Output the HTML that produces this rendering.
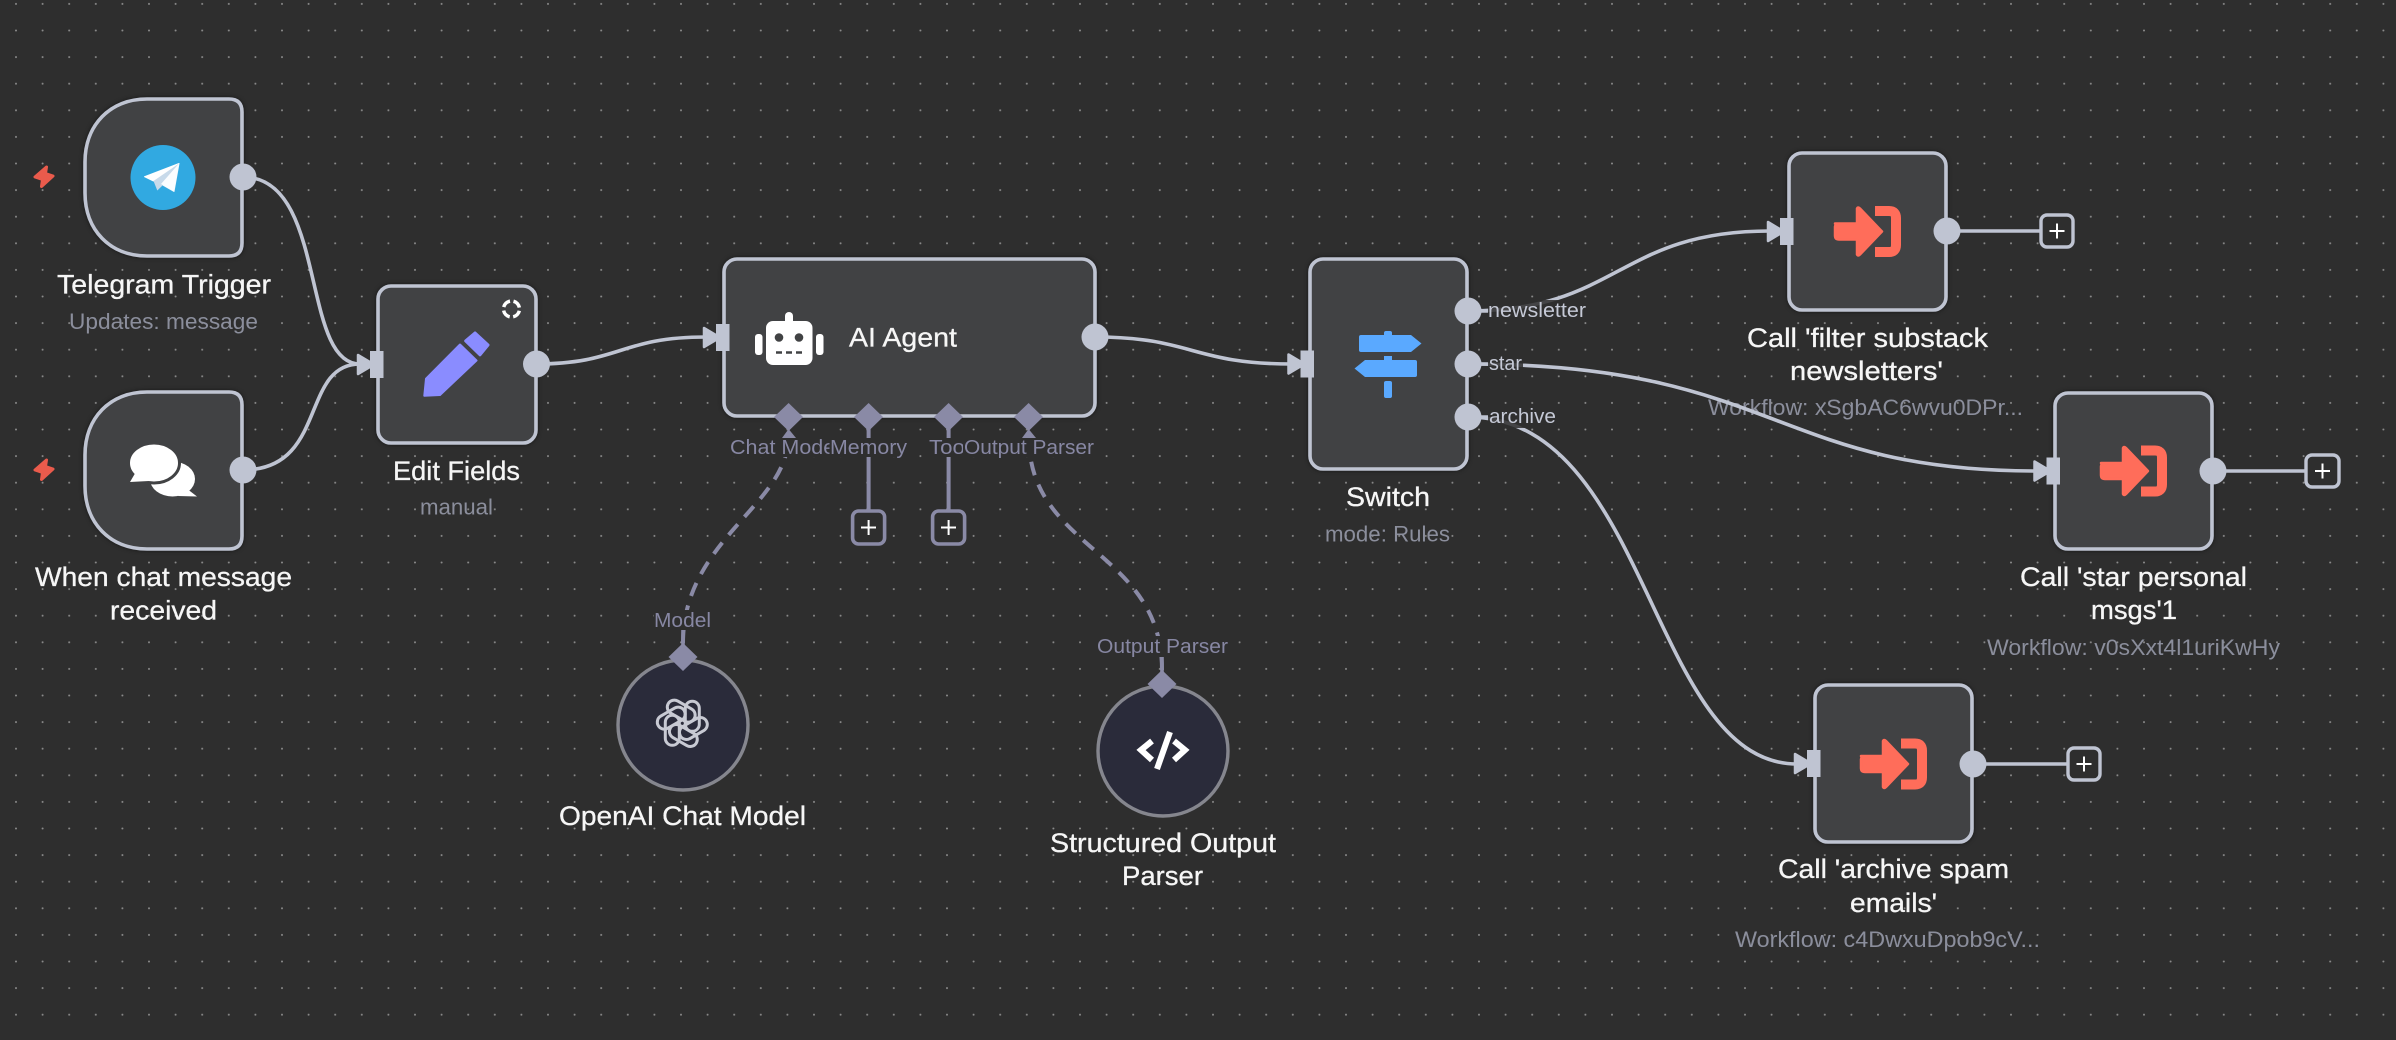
<!DOCTYPE html>
<html><head><meta charset="utf-8"><title>Workflow</title>
<style>
html,body{margin:0;padding:0;background:#2e2e2e;width:2396px;height:1040px;overflow:hidden}
svg{display:block}
text{font-family:"Liberation Sans",sans-serif}
.l{font-size:27px;fill:#f6f6f6;stroke:#f6f6f6;stroke-width:.3}
.s{font-size:22px;fill:#8b8e9c}
.h{font-size:20.5px;fill:#8787a3}
.p{font-size:20.5px;fill:#c5c9d6}
.n{fill:#414244;stroke:#bfc4d2;stroke-width:3.6;filter:drop-shadow(0 0 2px rgba(0,0,0,.5))}
.e{fill:none;stroke:#bfc4d2;stroke-width:3.6}
.d{fill:none;stroke:#8a8aa6;stroke-width:4;stroke-dasharray:14 10}
.c{fill:#bfc4d2}
.m{fill:#8a8aa6}
</style></head><body>
<svg width="2396" height="1040" viewBox="0 0 2396 1040" xmlns="http://www.w3.org/2000/svg">
<defs>
<pattern id="g" x="2.7" y="-9.4" width="26.6" height="26.6" patternUnits="userSpaceOnUse"><circle cx="13.3" cy="13.3" r="1" fill="#8c8c8c"/></pattern>
<g id="sub">
<path d="M47,-8H69V-23Q70,-25 72,-23L94,0L72,23Q70,25 69,23V8H51Q47,8 47,4V-4Q47,-8 51,-8Z" fill="#ff6d5a" stroke="#ff6d5a" stroke-width="2.5" stroke-linejoin="round"/>
<path d="M87,-20.5H101Q108,-20.5 108,-13.5V13.5Q108,20.5 101,20.5H87" fill="none" stroke="#ff6d5a" stroke-width="10"/>
</g>
<g id="inp"><polygon points="-19,-9.5 -3,0 -19,9.5" class="c" stroke="#bfc4d2" stroke-width="2.5" stroke-linejoin="round"/><rect x="-7" y="-13.5" width="13.5" height="27" class="c"/></g>
<g id="bolt"><polygon points="46.5,167 35,177 42.5,179.5 41.5,186.5 53,176 45.5,173.5" fill="#ea5b4c" stroke="#ea5b4c" stroke-width="3" stroke-linejoin="round"/></g>
</defs>
<rect width="2396" height="1040" fill="#2e2e2e"/>
<rect width="2396" height="1040" fill="url(#g)"/>

<!-- node labels -->
<text class="l" x="57" y="293.5" textLength="214" lengthAdjust="spacingAndGlyphs">Telegram Trigger</text>
<text class="s" x="69" y="329" textLength="189" lengthAdjust="spacingAndGlyphs">Updates: message</text>
<text class="l" x="35" y="586" textLength="257" lengthAdjust="spacingAndGlyphs">When chat message</text>
<text class="l" x="110" y="619.5" textLength="107" lengthAdjust="spacingAndGlyphs">received</text>
<text class="l" x="393" y="480" textLength="127" lengthAdjust="spacingAndGlyphs">Edit Fields</text>
<text class="s" x="420" y="514.5" textLength="73" lengthAdjust="spacingAndGlyphs">manual</text>
<text class="l" x="1346" y="506" textLength="84" lengthAdjust="spacingAndGlyphs">Switch</text>
<text class="s" x="1325" y="541.5" textLength="125" lengthAdjust="spacingAndGlyphs">mode: Rules</text>
<text class="l" x="559" y="825" textLength="247" lengthAdjust="spacingAndGlyphs">OpenAI Chat Model</text>
<text class="l" x="1050" y="852" textLength="226" lengthAdjust="spacingAndGlyphs">Structured Output</text>
<text class="l" x="1122" y="885" textLength="81" lengthAdjust="spacingAndGlyphs">Parser</text>
<text class="l" x="1747" y="347" textLength="241" lengthAdjust="spacingAndGlyphs">Call 'filter substack</text>
<text class="l" x="1790" y="380" textLength="153" lengthAdjust="spacingAndGlyphs">newsletters'</text>
<text class="s" x="1708" y="415" textLength="315" lengthAdjust="spacingAndGlyphs">Workflow: xSgbAC6wvu0DPr...</text>
<text class="l" x="2020" y="586" textLength="227" lengthAdjust="spacingAndGlyphs">Call 'star personal</text>
<text class="l" x="2091" y="619" textLength="86" lengthAdjust="spacingAndGlyphs">msgs'1</text>
<text class="s" x="1987" y="655" textLength="293" lengthAdjust="spacingAndGlyphs">Workflow: v0sXxt4l1uriKwHy</text>
<text class="l" x="1778" y="878" textLength="231" lengthAdjust="spacingAndGlyphs">Call 'archive spam</text>
<text class="l" x="1850" y="912" textLength="87" lengthAdjust="spacingAndGlyphs">emails'</text>
<text class="s" x="1735" y="947" textLength="305" lengthAdjust="spacingAndGlyphs">Workflow: c4DwxuDpob9cV...</text>

<!-- connectors -->
<path class="e" d="M243,177C328,177 300,364 360,364"/>
<path class="e" d="M243,470C328,470 300,364 360,364"/>
<path class="e" d="M536,364C620,364 620,337 706,337"/>
<path class="e" d="M1095,337C1192,337 1192,364 1292,364"/>
<path class="e" d="M1468,311C1618,311 1618,231 1770,231"/>
<path class="e" d="M1468,364C1775,364 1774,471 2036,471"/>
<path class="e" d="M1468,417C1650,417 1650,764 1797,764"/>
<path class="e" d="M1947,231H2040"/>
<path class="e" d="M2213,471H2305"/>
<path class="e" d="M1973,764H2067"/>
<path class="d" d="M683,643C683,540 788,505 788,438"/>
<path class="d" d="M1162,670C1162,550 1029,550 1029,438"/>
<path d="M868.6,417V511M948.6,417V511" stroke="#8a8aa6" stroke-width="4" fill="none"/>
<path d="M683,630V645M1162,655V672" stroke="#8a8aa6" stroke-width="3.6" fill="none"/>
<polygon class="m" points="782,438 788.6,429 796,438"/>
<polygon class="m" points="1022,438 1028.6,429 1036,438"/>

<!-- trigger nodes -->
<path class="n" d="M147,99H229Q242,99 242,112V243Q242,256 229,256H147C110,256 85,230 85,193V162C85,125 110,99 147,99Z"/>
<path class="n" d="M147,392H229Q242,392 242,405V536Q242,549 229,549H147C110,549 85,523 85,486V455C85,418 110,392 147,392Z"/>
<use href="#bolt"/><use href="#bolt" y="293"/>
<circle cx="163" cy="177.5" r="32.5" fill="#31a9e1"/>
<polygon points="144.5,176.7 179,163.5 153.5,181" fill="#fff" stroke="#fff" stroke-width="1" stroke-linejoin="round"/>
<polygon points="179,163.5 174,191.5 160,183.5" fill="#f4f8fb" stroke="#f4f8fb" stroke-width="1" stroke-linejoin="round"/>
<polygon points="153.5,181 157.3,190.5 163,185 179,163.5" fill="#c8daea"/>
<polygon points="179,163.5 174,191.5 161,184" fill="#fbfdff"/>
<g fill="#fff">
<ellipse cx="172.5" cy="479" rx="22.5" ry="17.5"/><polygon points="186,488 197,496.5 178,496"/>
<ellipse cx="154" cy="463" rx="25.5" ry="20" stroke="#414244" stroke-width="3"/>
<polygon points="130,482 137,470 149,481"/>
</g>
<circle cx="243" cy="177" r="13.5" class="c"/>
<circle cx="243" cy="470" r="13.5" class="c"/>

<!-- Edit fields -->
<rect class="n" x="378" y="286" width="158" height="157" rx="13"/>
<polygon points="424.3,395.7 426,378.7 460,344.5 476.5,360.5 440,395" fill="#8a8cff" stroke="#8a8cff" stroke-width="2" stroke-linejoin="round"/>
<polygon points="465.7,340.9 475,333 488,345 480,354.8" fill="#8a8cff" stroke="#8a8cff" stroke-width="3" stroke-linejoin="round"/>
<circle cx="511.5" cy="309" r="8" fill="none" stroke="#fff" stroke-width="3.5" stroke-dasharray="9 3.57" stroke-dashoffset="-1.78"/>
<use href="#inp" x="377" y="364.5"/>
<circle cx="536.5" cy="364" r="13.5" class="c"/>

<!-- AI Agent -->
<rect class="n" x="724" y="259" width="371" height="157" rx="13"/>
<use href="#inp" x="723" y="337.5"/>
<circle cx="1095" cy="337" r="13.5" class="c"/>
<g fill="#fff">
<rect x="785" y="312" width="8" height="14" rx="4"/>
<rect x="766" y="321" width="46.5" height="44" rx="7"/>
<rect x="755" y="334" width="7.5" height="21" rx="3"/>
<rect x="816" y="334" width="7.5" height="21" rx="3"/>
</g>
<circle cx="779" cy="337.5" r="4.3" fill="#414244"/><circle cx="799" cy="337.5" r="4.3" fill="#414244"/>
<path d="M776,352.5H802.5" stroke="#414244" stroke-width="2.5" stroke-dasharray="6 4"/>
<text class="l" x="849" y="346.7" textLength="108" lengthAdjust="spacingAndGlyphs">AI Agent</text>
<g class="m">
<polygon points="788.6,403 803,417 788.6,431 774,417"/>
<polygon points="868.6,403 883,417 868.6,431 854,417"/>
<polygon points="948.6,403 963,417 948.6,431 934,417"/>
<polygon points="1028.6,403 1043,417 1028.6,431 1014,417"/>
</g>
<rect x="730" y="438" width="108" height="19" fill="#2e2e2e"/>
<text class="h" x="730" y="454" textLength="110" lengthAdjust="spacingAndGlyphs">Chat Model</text>
<rect x="829.5" y="438" width="79" height="19" fill="#2e2e2e"/>
<text class="h" x="830" y="454" textLength="77" lengthAdjust="spacingAndGlyphs">Memory</text>
<rect x="928" y="438" width="42" height="19" fill="#2e2e2e"/>
<text class="h" x="929" y="454" textLength="52" lengthAdjust="spacingAndGlyphs">Tools</text>
<rect x="963" y="438" width="132" height="19" fill="#2e2e2e"/>
<text class="h" x="964" y="454" textLength="130" lengthAdjust="spacingAndGlyphs">Output Parser</text>
<g fill="#2e2e2e" stroke="#8a8aa6" stroke-width="3.6">
<rect x="852.6" y="511" width="32" height="33" rx="6"/>
<rect x="932.6" y="511" width="32" height="33" rx="6"/>
</g>
<path d="M861,527.5H876M868.6,520V535M941,527.5H956M948.6,520V535" stroke="#fff" stroke-width="2"/>

<!-- OpenAI -->
<circle cx="683" cy="725" r="65" fill="#2a2b3a" stroke="#85868e" stroke-width="3.4"/>
<g fill="none" stroke="#c8cad3" stroke-width="3" transform="translate(682.3 723.3)">
<rect x="3" y="-22" width="14" height="30" rx="7"/>
<rect x="3" y="-22" width="14" height="30" rx="7" transform="rotate(60)"/>
<rect x="3" y="-22" width="14" height="30" rx="7" transform="rotate(120)"/>
<rect x="3" y="-22" width="14" height="30" rx="7" transform="rotate(180)"/>
<rect x="3" y="-22" width="14" height="30" rx="7" transform="rotate(240)"/>
<rect x="3" y="-22" width="14" height="30" rx="7" transform="rotate(300)"/>
</g>
<rect x="654" y="610" width="57" height="20" fill="#2e2e2e"/>
<text class="h" x="654" y="627" textLength="57" lengthAdjust="spacingAndGlyphs">Model</text>
<polygon class="m" points="683,643 697.5,657 683,671 668.5,657"/>

<!-- Structured -->
<circle cx="1163" cy="751" r="65" fill="#2a2b3a" stroke="#85868e" stroke-width="3.4"/>
<path d="M1152,741L1141,750L1152,760M1174,741L1185,750L1174,760" fill="none" stroke="#fff" stroke-width="6"/>
<path d="M1170,732L1157,769" fill="none" stroke="#fff" stroke-width="6"/>
<rect x="1097" y="636" width="131" height="21" fill="#2e2e2e"/>
<text class="h" x="1097" y="653" textLength="131" lengthAdjust="spacingAndGlyphs">Output Parser</text>
<polygon class="m" points="1162,670 1176.5,684 1162,698 1147.5,684"/>

<!-- Switch -->
<rect class="n" x="1310" y="259" width="157" height="210" rx="13"/>
<use href="#inp" x="1307.5" y="364"/>
<g fill="#5aa9ff">
<rect x="1384" y="331" width="8" height="8" rx="2"/>
<path d="M1361,335H1411L1421.5,343.5L1411,352H1361Q1359,352 1359,350V337Q1359,335 1361,335Z"/>
<rect x="1384" y="356" width="8" height="8"/>
<path d="M1365,360H1415Q1417,360 1417,362V375Q1417,377 1415,377H1365L1354.5,368.5Z"/>
<rect x="1384" y="381" width="8" height="17" rx="2"/>
</g>
<g class="c">
<circle cx="1468" cy="311" r="13.5"/><circle cx="1468" cy="364" r="13.5"/><circle cx="1468" cy="417" r="13.5"/>
</g>
<path d="M1480,311H1488M1480,364H1488M1480,417H1488" stroke="#bfc4d2" stroke-width="3.6"/>
<g fill="#2e2e2e" fill-opacity=".85">
<rect x="1488" y="300" width="98" height="22"/><rect x="1488" y="353" width="35" height="22"/><rect x="1488" y="406" width="68" height="22"/>
</g>
<text class="p" x="1488" y="317" textLength="98" lengthAdjust="spacingAndGlyphs">newsletter</text>
<text class="p" x="1489" y="370" textLength="33" lengthAdjust="spacingAndGlyphs">star</text>
<text class="p" x="1489" y="423" textLength="67" lengthAdjust="spacingAndGlyphs">archive</text>

<!-- Sub-workflow nodes -->
<rect class="n" x="1789" y="153" width="157" height="157" rx="13"/>
<use href="#inp" x="1787" y="231.5"/><use href="#sub" x="1788" y="231.5"/>
<circle cx="1947" cy="231" r="13.5" class="c"/>
<rect class="n" x="2055" y="393" width="157" height="156" rx="13"/>
<use href="#inp" x="2053.5" y="471"/><use href="#sub" x="2054" y="471"/>
<circle cx="2213" cy="471" r="13.5" class="c"/>
<rect class="n" x="1815" y="685" width="157" height="157" rx="13"/>
<use href="#inp" x="1814" y="763.5"/><use href="#sub" x="1814" y="764"/>
<circle cx="1973" cy="764" r="13.5" class="c"/>
<g fill="#2e2e2e" stroke="#bfc4d2" stroke-width="3.4">
<rect x="2041" y="215" width="32" height="32" rx="6"/>
<rect x="2306" y="455" width="33" height="32" rx="6"/>
<rect x="2068" y="748" width="32" height="32" rx="6"/>
</g>
<path d="M2049.5,231H2064.5M2057,223.5V238.5M2315,471H2330M2322.5,463.5V478.5M2076.5,764H2091.5M2084,756.5V771.5" stroke="#fff" stroke-width="2"/>
</svg>
</body></html>
